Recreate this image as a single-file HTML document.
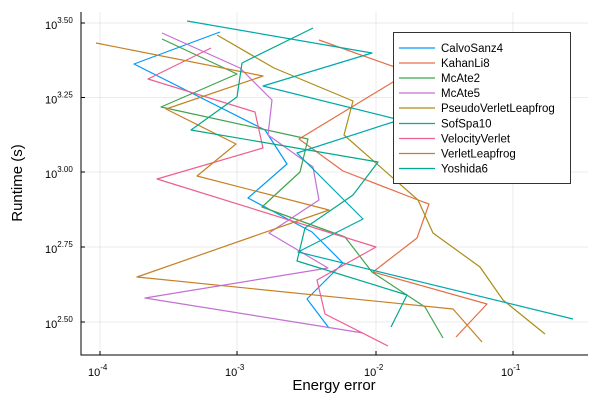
<!DOCTYPE html>
<html><head><meta charset="utf-8"><style>
html,body{margin:0;padding:0;background:#fff}
svg{display:block;font-family:"Liberation Sans","DejaVu Sans",sans-serif}
</style></head><body>
<svg width="600" height="400" viewBox="0 0 600 400" xmlns="http://www.w3.org/2000/svg">
<rect width="600" height="400" fill="#fff"/>
<g stroke="#000" stroke-opacity="0.08" stroke-width="1">
<line x1="100" y1="12" x2="100" y2="355"/>
<line x1="237" y1="12" x2="237" y2="355"/>
<line x1="376" y1="12" x2="376" y2="355"/>
<line x1="513" y1="12" x2="513" y2="355"/>
<line x1="81" y1="23" x2="588" y2="23"/>
<line x1="81" y1="97.5" x2="588" y2="97.5"/>
<line x1="81" y1="172" x2="588" y2="172"/>
<line x1="81" y1="247" x2="588" y2="247"/>
<line x1="81" y1="322" x2="588" y2="322"/>
</g>
<g fill="none" stroke-width="1.2" stroke-linejoin="round">
<polyline stroke="#009AFA" points="220,32 134,64 265,130 287,164 248,198 312,232 343,263 307,299 329,328"/>
<polyline stroke="#E36F47" points="319,40 420,76 420,76 393,82 299,139 343,171 418,200 429,204 417,238 373,272 487,304 456,337"/>
<polyline stroke="#3EA44E" points="162,39 237,74 161,107 308,139 300,172 262,207 345,237 372,272 425,307 443,338"/>
<polyline stroke="#C371D2" points="162,33 240,68 272,100 268,135 313,167 319,200 269,233 328,268 145,298 363,333"/>
<polyline stroke="#AC8D18" points="217,35 274,68 353,101 344,135 418,200 433,233 480,267 503,300 545,334"/>
<polyline stroke="#00A9AD" points="187,21 372,53 263,86 400,120 393,122 297,153 363,219 298,252 573,319"/>
<polyline stroke="#ED5E93" points="211,48 148,79 255,112 263,148 157,179 376,247 317,280 325,314 388,346"/>
<polyline stroke="#C68125" points="96,43 263,76 166,109 236,144 197,176 329,210 137,277 453,309 482,342"/>
<polyline stroke="#00A98D" points="313,28 242,63 237,97 191,130 378,162 353,195 305,228 297,261 407,295 391,327"/>
</g>
<g stroke="#000" stroke-width="1">
<line x1="81" y1="12" x2="81" y2="355.5"/>
<line x1="80.5" y1="355" x2="588" y2="355"/>
<line x1="100" y1="355" x2="100" y2="351"/>
<line x1="237" y1="355" x2="237" y2="351"/>
<line x1="376" y1="355" x2="376" y2="351"/>
<line x1="513" y1="355" x2="513" y2="351"/>
<line x1="81" y1="23" x2="85" y2="23"/>
<line x1="81" y1="97.5" x2="85" y2="97.5"/>
<line x1="81" y1="172" x2="85" y2="172"/>
<line x1="81" y1="247" x2="85" y2="247"/>
<line x1="81" y1="322" x2="85" y2="322"/>
</g>
<g font-size="11" fill="#000">
<text x="88" y="376">10<tspan font-size="8" dy="-6">-4</tspan></text>
<text x="225" y="376">10<tspan font-size="8" dy="-6">-3</tspan></text>
<text x="364" y="376">10<tspan font-size="8" dy="-6">-2</tspan></text>
<text x="501" y="376">10<tspan font-size="8" dy="-6">-1</tspan></text>
<text x="45" y="29">10<tspan font-size="8" dy="-6">3.50</tspan></text>
<text x="45" y="103.5">10<tspan font-size="8" dy="-6">3.25</tspan></text>
<text x="45" y="178">10<tspan font-size="8" dy="-6">3.00</tspan></text>
<text x="45" y="253">10<tspan font-size="8" dy="-6">2.75</tspan></text>
<text x="45" y="328">10<tspan font-size="8" dy="-6">2.50</tspan></text>
</g>
<text x="334" y="390" font-size="15" text-anchor="middle">Energy error</text>
<text x="0" y="0" font-size="15" text-anchor="middle" transform="translate(22,183) rotate(-90)">Runtime (s)</text>
<rect x="393.5" y="32.5" width="177" height="151" fill="#fff" stroke="#333" stroke-width="1"/>
<g stroke-width="1.2">
<line x1="399" y1="48" x2="435" y2="48" stroke="#009AFA"/>
<line x1="399" y1="63" x2="435" y2="63" stroke="#E36F47"/>
<line x1="399" y1="78" x2="435" y2="78" stroke="#3EA44E"/>
<line x1="399" y1="93" x2="435" y2="93" stroke="#C371D2"/>
<line x1="399" y1="108" x2="435" y2="108" stroke="#AC8D18"/>
<line x1="399" y1="123.5" x2="435" y2="123.5" stroke="#00A9AD"/>
<line x1="399" y1="138.5" x2="435" y2="138.5" stroke="#ED5E93"/>
<line x1="399" y1="153.5" x2="435" y2="153.5" stroke="#C68125"/>
<line x1="399" y1="168.5" x2="435" y2="168.5" stroke="#00A98D"/>
</g>
<g font-size="11.5" fill="#000">
<text x="441" y="52">CalvoSanz4</text>
<text x="441" y="67">KahanLi8</text>
<text x="441" y="82">McAte2</text>
<text x="441" y="97">McAte5</text>
<text x="441" y="112">PseudoVerletLeapfrog</text>
<text x="441" y="127.5">SofSpa10</text>
<text x="441" y="142.5">VelocityVerlet</text>
<text x="441" y="157.5">VerletLeapfrog</text>
<text x="441" y="172.5">Yoshida6</text>
</g>
</svg>
</body></html>
